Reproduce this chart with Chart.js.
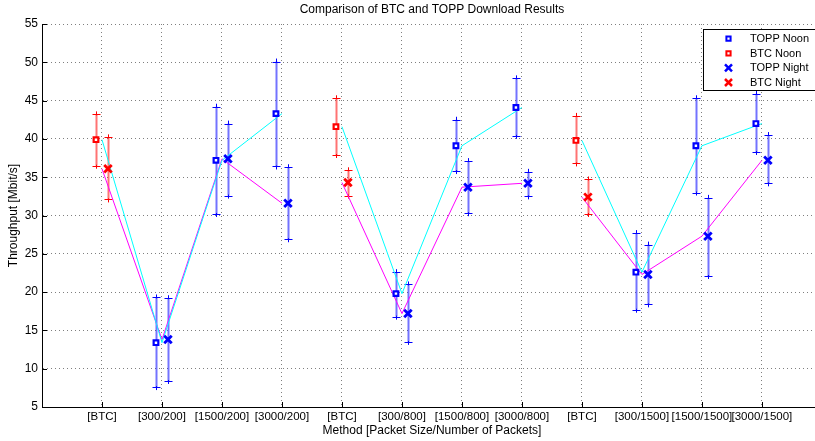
<!DOCTYPE html>
<html>
<head>
<meta charset="utf-8">
<script src="https://cdn.jsdelivr.net/npm/chart.js@4"></script>
<style>
  html, body { margin: 0; padding: 0; background: #fff; overflow: hidden; }
  #wrap { width: 815px; height: 441px; overflow: hidden; }
</style>
</head>
<body>
<div id="wrap"><canvas id="chart" width="830" height="441"></canvas></div>
<script>
// methods along the x axis
const categories = ['[BTC]', '[300/200]', '[1500/200]', '[3000/200]',
                    '[BTC]', '[300/800]', '[1500/800]', '[3000/800]',
                    '[BTC]', '[300/1500]', '[1500/1500]', '[3000/1500]'];

// noon runs: mean and error bar limits
const noonMean = [39.9, 13.4, 37.2, 43.3, 41.6, 19.8, 39.1, 44.1, 39.8, 22.6, 39.1, 42.0];
const noonLow  = [36.5,  7.6, 30.2, 36.4, 37.9, 16.8, 35.8, 40.4, 36.8, 17.7, 33.0, 38.3];
const noonHigh = [43.2, 19.3, 44.2, 50.1, 45.3, 22.6, 42.5, 47.9, 43.0, 27.7, 45.3, 45.9];

// night runs
const nightMean = [36.1, 13.8, 37.4, 31.6, 34.3, 17.2, 33.7, 34.2, 32.4, 22.3, 27.3, 37.2];
const nightLow  = [32.1,  8.4, 32.6, 26.9, 32.6, 13.5, 30.3, 32.5, 30.2, 18.4, 22.1, 34.2];
const nightHigh = [40.2, 19.2, 42.0, 36.3, 35.9, 21.0, 37.1, 35.7, 34.7, 26.2, 32.3, 40.5];

const yTicks = [5, 10, 15, 20, 25, 30, 35, 40, 45, 50, 55];

const BLUE = '#0000ff';
const RED = '#ff0000';
const FONT = '"Liberation Sans", Arial, Helvetica, sans-serif';

const isBtc = i => categories[i] === '[BTC]';

// marker points sit a little left (noon) or right (night) of the category
function points(mean, low, high, shift, pick) {
  const out = [];
  categories.forEach((c, i) => {
    if (pick(i)) out.push({ x: i + 1 + shift, y: mean[i], lo: low[i], hi: high[i] });
  });
  return out;
}

function markerSet(label, color, style, data) {
  return {
    type: 'scatter',
    label: label,
    data: data,
    pointStyle: style,
    pointRadius: style === 'rect' ? 3.3 : 5.3,
    borderWidth: style === 'rect' ? 2.2 : 2.8,
    borderColor: color,
    backgroundColor: style === 'rect' ? '#fff' : color,
    errColor: color
  };
}

// one polyline per BTC group, broken before each new [BTC]
function lineSet(color, mean) {
  const data = [];
  mean.forEach((v, i) => {
    if (i > 0 && isBtc(i)) data.push({ x: i + 0.5, y: null });
    data.push({ x: i + 1, y: v });
  });
  return {
    type: 'line',
    label: '',
    data: data,
    borderColor: color,
    borderWidth: 1,
    pointRadius: 0,
    fill: false,
    spanGaps: false,
    isGuide: true
  };
}

const datasets = [
  markerSet('TOPP Noon', BLUE, 'rect', points(noonMean, noonLow, noonHigh, -0.1, i => !isBtc(i))),
  markerSet('BTC Noon', RED, 'rect', points(noonMean, noonLow, noonHigh, -0.1, isBtc)),
  markerSet('TOPP Night', BLUE, 'crossRot', points(nightMean, nightLow, nightHigh, 0.1, i => !isBtc(i))),
  markerSet('BTC Night', RED, 'crossRot', points(nightMean, nightLow, nightHigh, 0.1, isBtc)),
  lineSet('#00ffff', noonMean),
  lineSet('#ff00ff', nightMean)
];

function drawMark(ctx, style, color, x, y) {
  ctx.save();
  ctx.strokeStyle = color;
  ctx.beginPath();
  if (style === 'rect') {
    ctx.lineWidth = 2;
    ctx.fillStyle = '#fff';
    ctx.rect(x - 2.1, y - 2.1, 4.2, 4.2);
    ctx.fill();
  } else {
    ctx.lineWidth = 2.5;
    ctx.moveTo(x - 3.5, y - 3.5); ctx.lineTo(x + 3.5, y + 3.5);
    ctx.moveTo(x + 3.5, y - 3.5); ctx.lineTo(x - 3.5, y + 3.5);
  }
  ctx.stroke();
  ctx.restore();
}

const extras = {
  id: 'extras',
  beforeDatasetsDraw(chart) {
    const ctx = chart.ctx;
    const ys = chart.scales.y;
    chart.data.datasets.forEach((ds, di) => {
      if (ds.isGuide) return;
      const meta = chart.getDatasetMeta(di);
      ds.data.forEach((p, j) => {
        const x = Math.round(meta.data[j].x) + 0.5;
        const top = ys.getPixelForValue(p.hi);
        const bot = ys.getPixelForValue(p.lo);
        ctx.save();
        ctx.globalAlpha = 0.55;
        ctx.strokeStyle = ds.errColor;
        ctx.lineWidth = 2;
        ctx.beginPath();
        ctx.moveTo(x, top); ctx.lineTo(x, bot);
        ctx.stroke();
        ctx.globalAlpha = 1;
        ctx.lineWidth = 1;
        ctx.beginPath();
        ctx.moveTo(x - 4, Math.round(top) + 0.5); ctx.lineTo(x + 4, Math.round(top) + 0.5);
        ctx.moveTo(x - 4, Math.round(bot) + 0.5); ctx.lineTo(x + 4, Math.round(bot) + 0.5);
        ctx.moveTo(x, top - 3); ctx.lineTo(x, top + 1);
        ctx.moveTo(x, bot - 1); ctx.lineTo(x, bot + 3);
        ctx.stroke();
        ctx.restore();
      });
    });
  },
  afterDraw(chart) {
    const ctx = chart.ctx;
    const area = chart.chartArea;
    const xs = chart.scales.x;
    const ys = chart.scales.y;
    ctx.save();

    // inward tick marks on both axes
    ctx.strokeStyle = '#000';
    ctx.lineWidth = 1;
    ctx.beginPath();
    categories.forEach((c, i) => {
      const x = Math.round(xs.getPixelForValue(i + 1)) + 0.5;
      ctx.moveTo(x, area.bottom); ctx.lineTo(x, area.bottom - 5);
    });
    yTicks.forEach(v => {
      const y = Math.round(ys.getPixelForValue(v)) + 0.5;
      ctx.moveTo(area.left, y); ctx.lineTo(area.left + 5, y);
    });
    ctx.stroke();

    // title
    ctx.fillStyle = '#000';
    ctx.font = '12px ' + FONT;
    ctx.textAlign = 'center';
    ctx.textBaseline = 'middle';
    ctx.fillText('Comparison of BTC and TOPP Download Results', (area.left + area.right) / 2, 10);

    // legend box
    ctx.fillStyle = '#fff';
    ctx.fillRect(703.5, 29.5, 200, 61);
    ctx.strokeStyle = '#000';
    ctx.strokeRect(703.5, 29.5, 200, 61);
    ctx.textAlign = 'left';
    ctx.font = '11px ' + FONT;
    chart.data.datasets.forEach((ds, i) => {
      if (ds.isGuide) return;
      const y = 38.7 + i * 14.6;
      drawMark(ctx, ds.pointStyle, ds.errColor, 728.5, y);
      ctx.fillStyle = '#000';
      ctx.fillText(ds.label, 750, y + 0.5);
    });
    ctx.restore();
  }
};

Chart.defaults.font.family = FONT;
Chart.defaults.font.size = 11.5;
Chart.defaults.color = '#000';

new Chart(document.getElementById('chart'), {
  type: 'scatter',
  data: { datasets: datasets },
  options: {
    responsive: false,
    animation: false,
    events: [],
    layout: { padding: { top: 24, right: 8, left: 0, bottom: 0 } },
    plugins: { legend: { display: false }, tooltip: { enabled: false }, title: { display: false } },
    scales: {
      x: {
        type: 'linear',
        min: 0,
        max: 13,
        afterBuildTicks: s => { s.ticks = categories.map((c, i) => ({ value: i + 1 })); },
        afterFit: s => { s.height = 34; },
        ticks: {
          autoSkip: false,
          maxRotation: 0,
          padding: 3,
          callback: v => categories[v - 1]
        },
        grid: { color: 'rgba(0,0,0,0.5)', lineWidth: 1, drawTicks: false },
        border: { display: true, color: '#000', width: 1, dash: [1, 3] },
        title: {
          display: true,
          text: 'Method [Packet Size/Number of Packets]',
          font: { size: 12 },
          padding: { top: 0, bottom: 3 }
        }
      },
      y: {
        min: 5,
        max: 55,
        afterBuildTicks: s => { s.ticks = yTicks.map(v => ({ value: v })); },
        afterFit: s => { s.width = 42; },
        ticks: { padding: 4, font: { size: 12 } },
        grid: { color: 'rgba(0,0,0,0.5)', lineWidth: 1, drawTicks: false },
        border: { display: true, color: '#000', width: 1, dash: [1, 3] },
        title: {
          display: true,
          text: 'Throughput [Mbit/s]',
          font: { size: 12 },
          padding: { top: 6, bottom: 0 }
        }
      }
    }
  },
  plugins: [extras]
});
</script>
</body>
</html>
